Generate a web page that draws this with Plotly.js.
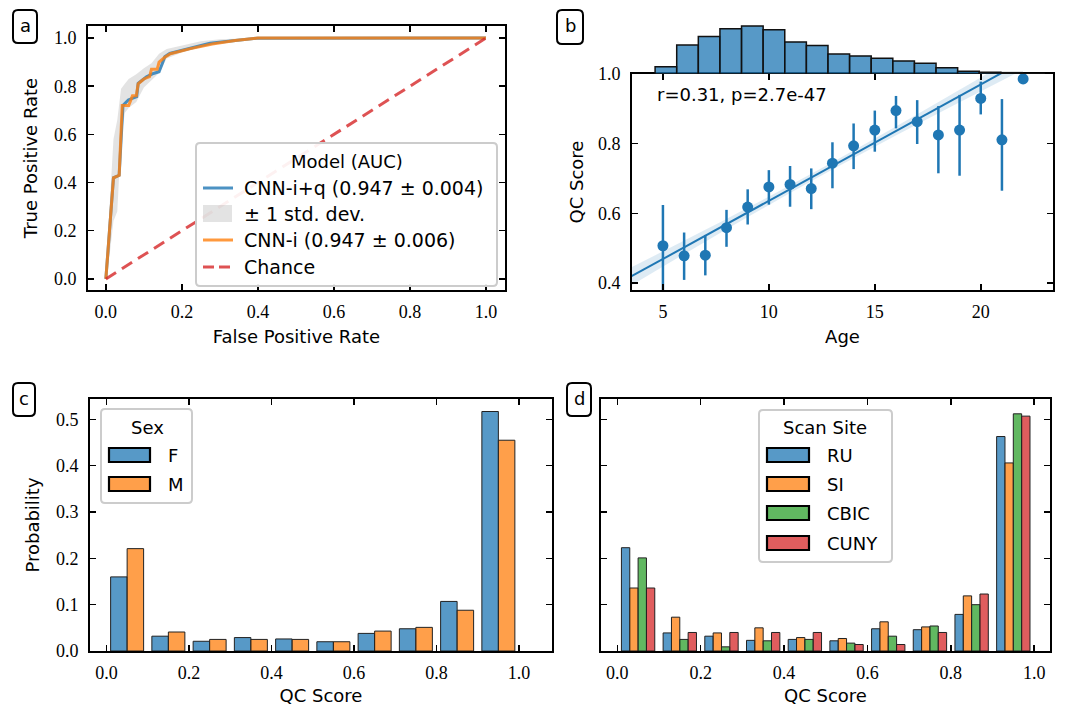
<!DOCTYPE html>
<html>
<head>
<meta charset="utf-8">
<script src="https://cdn.plot.ly/plotly-3.0.1.min.js"></script>
<style>html,body{margin:0;padding:0;background:#fff;}#chart{width:1075px;height:706px;}</style>
</head>
<body>
<div id="chart"></div>
<script>
// ---------------- DATA ----------------
// Panel a: ROC curves
const rocFprIQ = [0, 0.02, 0.035, 0.045, 0.059, 0.081, 0.085, 0.107, 0.125, 0.14, 0.147, 0.155, 0.168, 0.221, 0.274, 0.335, 0.397, 1.0];
const rocTprIQ = [0, 0.42, 0.43, 0.72, 0.743, 0.757, 0.812, 0.839, 0.853, 0.86, 0.888, 0.922, 0.936, 0.957, 0.978, 0.989, 0.999, 1.0];
const rocFprI  = [0, 0.02, 0.035, 0.043, 0.06, 0.07, 0.08, 0.085, 0.1, 0.115, 0.12, 0.135, 0.14, 0.155, 0.17, 0.22, 0.28, 0.34, 0.4, 1.0];
const rocTprI  = [0, 0.42, 0.43, 0.72, 0.72, 0.76, 0.76, 0.81, 0.83, 0.84, 0.87, 0.87, 0.90, 0.92, 0.935, 0.955, 0.975, 0.99, 1.0, 1.0];
const bandFpr  = [0, 0.01, 0.02, 0.03, 0.04, 0.05, 0.06, 0.08, 0.10, 0.12, 0.14, 0.16, 0.20, 0.25, 0.30, 0.35, 0.40, 0.50, 1.0];
const bandHi   = [0.03, 0.32, 0.58, 0.66, 0.79, 0.81, 0.83, 0.85, 0.875, 0.895, 0.935, 0.955, 0.97, 0.987, 0.995, 0.999, 1.0, 1.0, 1.0];
const bandLo   = [0, 0.10, 0.24, 0.28, 0.58, 0.69, 0.71, 0.735, 0.795, 0.825, 0.855, 0.915, 0.94, 0.962, 0.978, 0.99, 0.997, 1.0, 1.0];
const chanceX  = [0, 1];
const chanceY  = [0, 1];
const legendA  = ["CNN-i+q (0.947 ± 0.004)", "± 1 std. dev.", "CNN-i (0.947 ± 0.006)", "Chance"];

// Panel b: QC score vs age
const ages     = [5, 6, 7, 8, 9, 10, 11, 12, 13, 14, 15, 16, 17, 18, 19, 20, 21, 22];
const qcMean   = [0.507, 0.478, 0.480, 0.559, 0.618, 0.676, 0.683, 0.671, 0.744, 0.794, 0.839, 0.895, 0.863, 0.825, 0.839, 0.930, 0.811, 0.986];
const qcUpper  = [0.624, 0.545, 0.538, 0.610, 0.669, 0.724, 0.736, 0.729, 0.804, 0.858, 0.895, 0.937, 0.925, 0.908, 0.940, 0.978, 0.928, 0.986];
const qcLower  = [0.360, 0.409, 0.422, 0.504, 0.568, 0.625, 0.619, 0.612, 0.672, 0.727, 0.777, 0.844, 0.799, 0.715, 0.708, 0.884, 0.665, 0.986];
const fitSlope = 0.0334;
const fitIntercept = 0.302;
const fitAges  = [3.5, 7, 11, 15, 19, 23.5];
const fitCI    = [0.026, 0.017, 0.011, 0.012, 0.018, 0.028];
const statText = "r=0.31, p=2.7e-47";
const ageBinCenters = [5.14, 6.16, 7.18, 8.20, 9.22, 10.24, 11.26, 12.28, 13.30, 14.32, 15.34, 16.36, 17.38, 18.40, 19.42, 20.44, 21.46, 22.48];
const ageBinWidth = 1.02;
const ageCounts = [16, 64, 83, 100, 106, 98, 71, 63, 44, 40, 35, 29, 24, 14, 6, 4, 3, 1];

// Panels c, d: QC score histograms
const qcBins   = [0.05, 0.15, 0.25, 0.35, 0.45, 0.55, 0.65, 0.75, 0.85, 0.95];
const sexNames = ["F", "M"];
const probF    = [0.160, 0.032, 0.021, 0.029, 0.026, 0.020, 0.038, 0.048, 0.107, 0.517];
const probM    = [0.221, 0.041, 0.025, 0.025, 0.025, 0.020, 0.043, 0.051, 0.088, 0.455];
const siteNames = ["RU", "SI", "CBIC", "CUNY"];
const probRU   = [0.223, 0.039, 0.032, 0.023, 0.025, 0.022, 0.048, 0.046, 0.079, 0.463];
const probSI   = [0.136, 0.073, 0.039, 0.050, 0.029, 0.027, 0.063, 0.052, 0.119, 0.406];
const probCBIC = [0.201, 0.025, 0.009, 0.022, 0.025, 0.017, 0.032, 0.054, 0.100, 0.512];
const probCUNY = [0.136, 0.040, 0.040, 0.040, 0.040, 0.014, 0.014, 0.040, 0.123, 0.507];

// ---------------- LAYOUT HELPERS ----------------
const W = 1075, H = 706;
const fx = p => p / W;
const fy = p => 1 - p / H;
const SANS = "DejaVu Sans";
const SERIF = "Liberation Serif";
const C = {
  blue: "rgba(31,119,180,0.8)", orange: "rgba(255,127,14,0.8)", red: "rgba(214,39,40,0.8)",
  blueA: "rgba(31,119,180,0.75)", orangeA: "rgba(255,127,14,0.75)", greenA: "rgba(44,160,44,0.75)", redA: "rgba(214,39,40,0.75)",
  solidBlue: "#1f77b4"
};
const titleFont = {family: SANS, size: 18, color: "black"};

function axisBase(extra) {
  return Object.assign({
    showline: true, linecolor: "black", linewidth: 1.8, mirror: "ticks",
    ticks: "inside", ticklen: 6, tickwidth: 1.5, tickcolor: "black",
    showgrid: false, zeroline: false, automargin: false,
    tickfont: {family: SERIF, size: 18, color: "black"}
  }, extra);
}
function rrect(x0, y0, x1, y1, r) {
  const X = v => fx(v).toFixed(5), Y = v => fy(v).toFixed(5);
  return `M${X(x0 + r)},${Y(y0)} L${X(x1 - r)},${Y(y0)} Q${X(x1)},${Y(y0)} ${X(x1)},${Y(y0 + r)} ` +
         `L${X(x1)},${Y(y1 - r)} Q${X(x1)},${Y(y1)} ${X(x1 - r)},${Y(y1)} L${X(x0 + r)},${Y(y1)} ` +
         `Q${X(x0)},${Y(y1)} ${X(x0)},${Y(y1 - r)} L${X(x0)},${Y(y0 + r)} Q${X(x0)},${Y(y0)} ${X(x0 + r)},${Y(y0)} Z`;
}
const shapes = [];
const annotations = [];
function label(text, x, y, opts) {
  annotations.push(Object.assign({
    text: text, xref: "paper", yref: "paper", x: fx(x), y: fy(y), showarrow: false,
    xanchor: "left", yanchor: "middle", font: {family: SANS, size: 18, color: "black"}
  }, opts || {}));
}
function panelLabel(ch, x0, y0, x1, y1) {
  shapes.push({type: "path", xref: "paper", yref: "paper", path: rrect(x0, y0, x1, y1, 5),
               line: {color: "black", width: 2}, fillcolor: "white", layer: "above"});
  label(ch, (x0 + x1) / 2, (y0 + y1) / 2 - 1, {xanchor: "center"});
}
function legendBox(x0, y0, x1, y1) {
  shapes.push({type: "path", xref: "paper", yref: "paper", path: rrect(x0, y0, x1, y1, 4),
               line: {color: "#cccccc", width: 2}, fillcolor: "rgba(255,255,255,0.92)", layer: "above"});
}
function legendLine(x0, x1, y, color, dash) {
  shapes.push({type: "line", xref: "paper", yref: "paper", x0: fx(x0), x1: fx(x1), y0: fy(y), y1: fy(y),
               line: {color: color, width: 3, dash: dash || "solid"}, layer: "above"});
}
function legendRect(x0, x1, y, color, h, lw) {
  shapes.push({type: "rect", xref: "paper", yref: "paper", x0: fx(x0), x1: fx(x1), y0: fy(y + h / 2), y1: fy(y - h / 2),
               line: {color: "black", width: lw}, fillcolor: color, layer: "above"});
}

// ---------------- TRACES ----------------
const traces = [];
// Panel a
traces.push({x: bandFpr, y: bandLo, mode: "lines", line: {width: 0, color: "rgba(0,0,0,0)"}, xaxis: "x", yaxis: "y", showlegend: false, hoverinfo: "skip"});
traces.push({x: bandFpr, y: bandHi, mode: "lines", line: {width: 0, color: "rgba(0,0,0,0)"}, fill: "tonexty",
             fillcolor: "rgba(128,128,128,0.22)", xaxis: "x", yaxis: "y", name: legendA[1], showlegend: false});
traces.push({x: rocFprIQ, y: rocTprIQ, mode: "lines", line: {color: C.blue, width: 3}, xaxis: "x", yaxis: "y", name: legendA[0], showlegend: false});
traces.push({x: rocFprI, y: rocTprI, mode: "lines", line: {color: C.orange, width: 3}, xaxis: "x", yaxis: "y", name: legendA[2], showlegend: false});
traces.push({x: chanceX, y: chanceY, mode: "lines", line: {color: C.red, width: 3, dash: "12px,7px"}, xaxis: "x", yaxis: "y", name: legendA[3], showlegend: false});

// Panel b
const fitLine = fitAges.map(a => fitIntercept + fitSlope * a);
traces.push({x: fitAges, y: fitLine.map((v, i) => v - fitCI[i]), mode: "lines", line: {width: 0, color: "rgba(0,0,0,0)", shape: "spline"},
             xaxis: "x2", yaxis: "y2", showlegend: false, hoverinfo: "skip"});
traces.push({x: fitAges, y: fitLine.map((v, i) => v + fitCI[i]), mode: "lines", line: {width: 0, color: "rgba(0,0,0,0)", shape: "spline"},
             fill: "tonexty", fillcolor: "rgba(31,119,180,0.15)", xaxis: "x2", yaxis: "y2", showlegend: false, hoverinfo: "skip"});
traces.push({x: fitAges, y: fitLine, mode: "lines", line: {color: C.solidBlue, width: 2}, xaxis: "x2", yaxis: "y2", showlegend: false});
traces.push({x: ages, y: qcMean, mode: "markers", marker: {color: C.solidBlue, size: 11},
             error_y: {type: "data", symmetric: false, array: qcUpper.map((u, i) => u - qcMean[i]),
                       arrayminus: qcMean.map((m, i) => m - qcLower[i]), color: C.solidBlue, thickness: 2.5, width: 0},
             xaxis: "x2", yaxis: "y2", showlegend: false});
traces.push({type: "bar", x: ageBinCenters, y: ageCounts, width: ageBinCenters.map(() => ageBinWidth),
             marker: {color: C.blueA, line: {color: "#111", width: 1.5}}, xaxis: "x2", yaxis: "y3", showlegend: false});

// Panel c
[[probF, C.blueA], [probM, C.orangeA]].forEach((d, i) => {
  traces.push({type: "bar", x: qcBins, y: d[0], name: sexNames[i], marker: {color: d[1], line: {color: "#222", width: 1}},
               xaxis: "x4", yaxis: "y4", showlegend: false});
});
// Panel d
[[probRU, C.blueA], [probSI, C.orangeA], [probCBIC, C.greenA], [probCUNY, C.redA]].forEach((d, i) => {
  traces.push({type: "bar", x: qcBins, y: d[0], name: siteNames[i], marker: {color: d[1], line: {color: "#222", width: 1}},
               xaxis: "x5", yaxis: "y5", showlegend: false});
});

// ---------------- DECORATIONS ----------------
// Panel a legend
legendBox(196, 143, 497, 286);
label("Model (AUC)", 347, 162, {xanchor: "center"});
legendLine(203, 233, 188, C.blue);
shapes.push({type: "rect", xref: "paper", yref: "paper", x0: fx(203), x1: fx(232), y0: fy(222), y1: fy(205),
             line: {width: 0}, fillcolor: "rgba(128,128,128,0.22)", layer: "above"});
legendLine(203, 233, 240, C.orange);
legendLine(203, 233, 267, C.red, "11px,5px");
const legFont = {family: SANS, size: 19, color: "black"};
label(legendA[0], 242, 188, {font: legFont});
label(legendA[1], 242, 214, {font: legFont});
label(legendA[2], 242, 240, {font: legFont});
label(legendA[3], 242, 267, {font: legFont});
// Panel b stat text
label(statText, 655, 94);
// Panel c legend
legendBox(101, 409, 192, 503);
label("Sex", 147, 427, {xanchor: "center"});
legendRect(109, 150, 455, C.blueA, 14, 2.2);
legendRect(109, 150, 484, C.orangeA, 14, 2.2);
label(sexNames[0], 166, 455);
label(sexNames[1], 166, 484);
// Panel d legend
legendBox(759, 410, 892, 562);
label("Scan Site", 825, 427, {xanchor: "center"});
const siteCols = [C.blueA, C.orangeA, C.greenA, C.redA];
const siteRows = [455, 484, 513, 543];
siteNames.forEach((n, i) => { legendRect(767, 809, siteRows[i], siteCols[i], 14, 2.2); label(n, 825, siteRows[i]); });
// Panel labels
panelLabel("a", 13, 10, 37, 43);
panelLabel("b", 557, 10, 583, 44);
panelLabel("c", 13, 383, 35, 416);
panelLabel("d", 567, 383, 591, 416);

const tick01 = [0, 0.2, 0.4, 0.6, 0.8, 1.0];
const layout = {
  width: W, height: H, margin: {l: 0, r: 0, t: 0, b: 0}, paper_bgcolor: "white", plot_bgcolor: "white",
  showlegend: false, barmode: "group", bargap: 0.2, bargroupgap: 0,
  font: {family: SANS, color: "black"},
  xaxis: axisBase({domain: [fx(88), fx(505)], range: [-0.047, 1.05], tickvals: tick01, tickformat: ".1f", anchor: "y",
                   ticklabelstandoff: 5, title: {text: "False Positive Rate", standoff: 9, font: titleFont}}),
  yaxis: axisBase({domain: [fy(290), fy(26)], range: [-0.046, 1.05], tickvals: tick01, tickformat: ".1f", anchor: "x",
                   ticklabelstandoff: 6, title: {text: "True Positive Rate", standoff: 12, font: titleFont}}),
  xaxis2: axisBase({domain: [fx(632), fx(1053)], range: [3.54, 23.41], tickvals: [5, 10, 15, 20], anchor: "y2",
                    ticklabelstandoff: 5, title: {text: "Age", standoff: 9, font: titleFont}}),
  yaxis2: axisBase({domain: [fy(290), fy(74)], range: [0.38, 1.0], tickvals: [0.4, 0.6, 0.8, 1.0], tickformat: ".1f", anchor: "x2",
                    ticklabelstandoff: 6, title: {text: "QC Score", standoff: 10, font: titleFont}}),
  yaxis3: {domain: [fy(74), fy(22)], range: [0, 115], anchor: "x2", visible: false, showgrid: false, zeroline: false},
  xaxis4: axisBase({domain: [fx(90), fx(552)], range: [-0.04, 1.08], tickvals: tick01, tickformat: ".1f", anchor: "y4",
                    ticklabelstandoff: 5, title: {text: "QC Score", standoff: 9, font: titleFont}}),
  yaxis4: axisBase({domain: [fy(651), fy(399)], range: [0, 0.544], tickvals: [0, 0.1, 0.2, 0.3, 0.4, 0.5], tickformat: ".1f", anchor: "x4",
                    ticklabelstandoff: 6, title: {text: "Probability", standoff: 12, font: titleFont}}),
  xaxis5: axisBase({domain: [fx(601), fx(1050)], range: [-0.039, 1.038], tickvals: tick01, tickformat: ".1f", anchor: "y5",
                    ticklabelstandoff: 5, title: {text: "QC Score", standoff: 9, font: titleFont}}),
  yaxis5: axisBase({domain: [fy(651), fy(399)], range: [0, 0.544], tickvals: [0, 0.1, 0.2, 0.3, 0.4, 0.5], anchor: "x5",
                    showticklabels: false}),
  shapes: shapes, annotations: annotations
};
Plotly.newPlot("chart", traces, layout, {staticPlot: true, displayModeBar: false});
</script>
</body>
</html>
